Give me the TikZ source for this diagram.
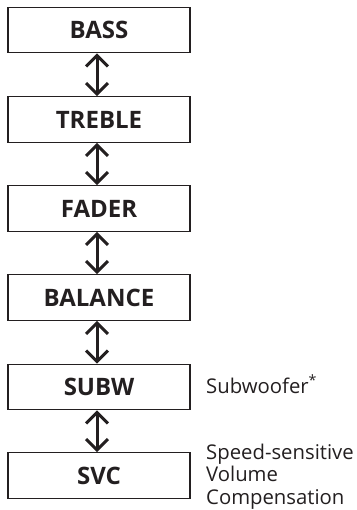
\documentclass[tikz,border=0pt]{standalone}
\usepackage{fontspec}
\setmainfont{Open Sans}
\usetikzlibrary{arrows.meta}
\definecolor{ink}{HTML}{231F20}
\begin{document}
\begin{tikzpicture}[x=1pt,y=-1pt,
  menubox/.style={draw=ink,line width=1.2pt,minimum width=182pt,minimum height=45.5pt,inner sep=0pt,font=\fontsize{24}{28}\selectfont\bfseries,text=ink},
  tip/.tip={Straight Barb[length=11pt,width=22pt,line width=3pt]},
  link/.style={draw=ink,line width=3pt,tip-tip},
  note/.style={font=\fontsize{20.3}{22.5}\selectfont,text=ink,align=left,inner sep=0pt}]
\useasboundingbox (0,0) rectangle (356,510);
\node[menubox] (bass)    at (99,30)    {BASS};
\node[menubox] (treble)  at (99,119.5) {TREBLE};
\node[menubox] (fader)   at (99,208.5) {FADER};
\node[menubox] (balance) at (99,297.5) {BALANCE};
\node[menubox] (subw)    at (99,387)   {SUBW};
\node[menubox] (svc)     at (99,475.5) {SVC};
\draw[link] ([xshift=-2pt]bass.south) -- ([xshift=-2pt]treble.north);
\draw[link] ([xshift=-2pt]treble.south) -- ([xshift=-2pt]fader.north);
\draw[link] ([xshift=-2pt]fader.south) -- ([xshift=-2pt]balance.north);
\draw[link] ([xshift=-2pt]balance.south) -- ([xshift=-2pt]subw.north);
\draw[link] ([xshift=-2pt]subw.south) -- ([xshift=-2pt]svc.north);
\node[note,anchor=base west] (subwnote) at (206,393) {Subwoofer\textsuperscript{*}};
\node[note,anchor=west] (svcnote) at (206,476.5) {Speed-sensitive\\Volume\\Compensation};
\end{tikzpicture}
\end{document}
